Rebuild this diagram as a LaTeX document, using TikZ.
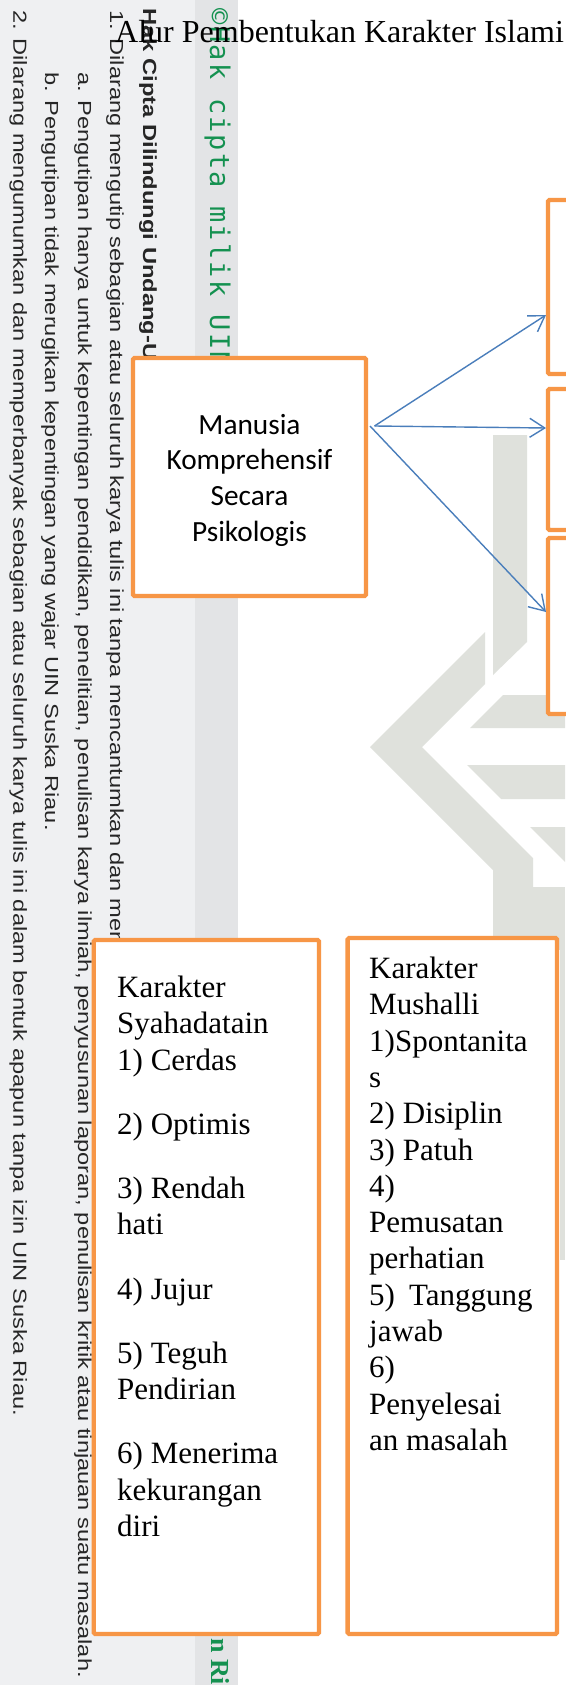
\documentclass[tikz,border=0pt]{standalone}
\usepackage{fontspec}
\setmainfont{Liberation Serif}
\newfontfamily\calibrifont{Carlito}
\newfontfamily\wmfont[FakeStretch=1.25]{Liberation Sans}
\newfontfamily\greenmono[LetterSpace=8]{DejaVu Sans Mono}
\usetikzlibrary{arrows.meta}
\definecolor{boxorange}{RGB}{247,150,70}
\definecolor{arrowblue}{RGB}{74,126,187}
\definecolor{striplight}{RGB}{239,240,242}
\definecolor{stripdark}{RGB}{227,228,230}
\definecolor{logogray}{RGB}{223,225,220}
\definecolor{wmgreen}{RGB}{20,145,80}
\definecolor{wmink}{RGB}{38,38,38}
\begin{document}
\begin{tikzpicture}[x=1pt,y=-1pt,
  wmline/.style={rotate=-90,anchor=base west,inner sep=0pt,text=wmink,font=\wmfont\fontsize{18.9}{20}\selectfont},
  obox/.style={draw=boxorange,line width=4.3pt,fill=white,rounded corners=1.5pt,outer sep=0pt,inner sep=0pt},
  conn/.style={draw=arrowblue,line width=1.4pt,-{Straight Barb[length=15pt,width=19pt]}},
  listtext/.style={anchor=north west,inner sep=0pt,align=left,font=\fontsize{31}{36.3}\selectfont},
  logo/.style={fill=logogray}
]
\useasboundingbox (0,0) rectangle (565,1685);
\fill[white] (0,0) rectangle (565,1685);
% left copyright strip
\fill[striplight] (0,0) rectangle (238,1685);
\fill[stripdark] (195,0) rectangle (238,1685);
% faint logo watermark
\path[logo] (493,435) -- (527,435) -- (527,642) -- (493,675) -- cycle;
\path[logo] (485,632) -- (370,747) -- (493,870) -- (493,950) -- (533,950) -- (533,858) -- (422,747) -- (485,684) -- cycle;
\path[logo] (503,695) -- (565,695) -- (565,728) -- (470,728) -- cycle;
\path[logo] (467,765) -- (565,765) -- (565,799) -- (501,799) -- cycle;
\path[logo] (530,827) -- (565,827) -- (565,862) -- cycle;
\path[logo] (533,887) rectangle (565,950);
\path[logo] (560,940) rectangle (565,1260);
% vertical copyright texts
\node[wmline] (wl2) at (13.4,10) {2. Dilarang mengumumkan dan memperbanyak sebagian atau seluruh karya tulis ini dalam bentuk apapun tanpa izin UIN Suska Riau.};
\node[wmline] (wlb) at (45,72) {b. Pengutipan tidak merugikan kepentingan yang wajar UIN Suska Riau.};
\node[wmline] (wla) at (78,72) {a. Pengutipan hanya untuk kepentingan pendidikan, penelitian, penulisan karya ilmiah, penyusunan laporan, penulisan kritik atau tinjauan suatu masalah.};
\node[wmline] (wl1) at (110,10) {1. Dilarang mengutip sebagian atau seluruh karya tulis ini tanpa mencantumkan dan menyebutkan sumber:};
\node[wmline,font=\wmfont\bfseries\fontsize{19}{20}\selectfont] (whak) at (143,8) {Hak Cipta Dilindungi Undang-Undang};
\node[rotate=-90,anchor=base west,inner sep=0pt,text=wmgreen,font=\greenmono\fontsize{27}{30}\selectfont] (wgreen) at (210,8) {©Hak cipta milik UIN Suska Riau};
\node[rotate=-90,anchor=base west,inner sep=0pt,text=wmgreen,font=\bfseries\fontsize{26}{28}\selectfont] (wgreenb) at (211,1638) {n Ri};
% title
\node[anchor=base west,inner sep=0pt,font=\fontsize{32}{38}\selectfont] (title) at (115,43) {Alur Pembentukan Karakter Islami};
% boxes
\node[obox,minimum width=233pt,minimum height=238pt] (man) at (249.5,477) {};
\node[align=center,inner sep=0pt,font=\calibrifont\fontsize{29.3}{35.7}\selectfont] (mantxt) at (249.5,480) {Manusia\\Komprehensif\\Secara\\Psikologis};
\node[obox,minimum width=62pt,minimum height=174pt] (r1) at (579,287) {};
\node[obox,minimum width=62pt,minimum height=141pt] (r2) at (579,459.5) {};
\node[obox,minimum width=62pt,minimum height=176pt] (r3) at (579,626) {};
\node[obox,minimum width=225.3pt,minimum height=694pt] (syah) at (206.4,1287) {};
\node[obox,minimum width=209.4pt,minimum height=696pt] (mush) at (452.3,1286) {};
\node[listtext] (syahtxt) at (117,975.8) {Karakter\\Syahadatain\\1) Cerdas\\[27.9pt]2) Optimis\\[27.9pt]3) Rendah\\hati\\[27.9pt]4) Jujur\\[27.9pt]5) Teguh\\Pendirian\\[27.9pt]6) Menerima\\kekurangan\\diri};
\node[listtext] (mushtxt) at (369,956.8) {Karakter\\Mushalli\\1)Spontanita\\s\\2) Disiplin\\3) Patuh\\4)\\Pemusatan\\perhatian\\5)\hspace{14pt}Tanggung\\jawab\\6)\\Penyelesai\\an masalah};
% connectors
\coordinate (o1) at (374.5,426);
\coordinate (o2) at (370,426);
\coordinate (e1) at (546,315);
\coordinate (e2) at (546,428);
\coordinate (e3) at (546,612);
\draw[conn] (o1) -- (e1);
\draw[conn] (o1) -- (e2);
\draw[conn] (o2) -- (e3);
\end{tikzpicture}
\end{document}
